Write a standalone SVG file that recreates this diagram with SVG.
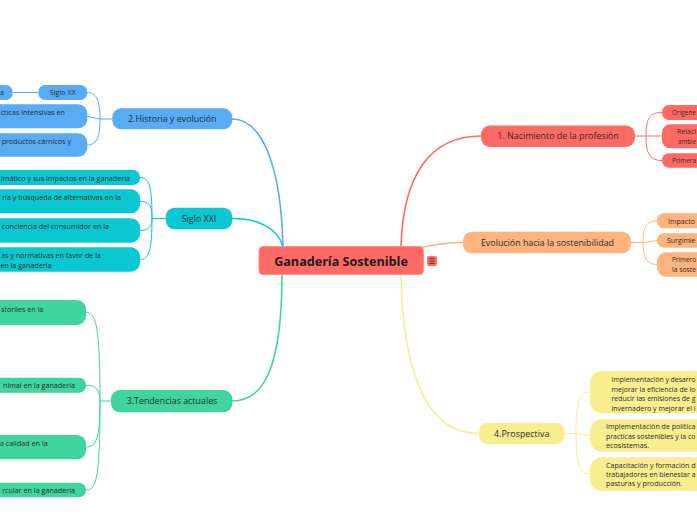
<svg xmlns="http://www.w3.org/2000/svg" width="697" height="520" viewBox="0 0 697 520">
<style>
text{font-family:"Open Sans","Noto Sans","DejaVu Sans",sans-serif;fill:#2b2b2b}
.b{font-size:8.9px}
.c{font-size:7.2px}
.red{fill:#FF6B64}
.org{fill:#FFB47E}
.yel{fill:#F8EE8F}
.blu{fill:#58ABF5}
.cya{fill:#0AC8D2}
.grn{fill:#40D59E}
.lr{stroke:#FF6B64}
.lo{stroke:#FFB47E}
.ly{stroke:#F8EE8F}
.lb{stroke:#58ABF5}
.lc{stroke:#0AC8D2}
.lg{stroke:#40D59E}
#connectors path{fill:none}
.m{stroke-width:1.6}
.s{stroke-width:1}
</style>
<rect width="697" height="520" fill="#ffffff"/>
<g id="connectors">
<path class="lr m" d="M401,247 C403,175 430,136 481,136"/>
<path class="lo m" d="M418,248 C440,244 448,242.5 463,242.5"/>
<path class="ly m" d="M401,274 C403,385 432,433.5 479,433.5"/>
<path class="lb m" d="M283,247 C281,165 262,119 232,119"/>
<path class="lc m" d="M283,247 C278,228 258,218.5 232,218.5"/>
<path class="lg m" d="M282,274 C282,372 262,401 232,401"/>
<path class="lr s" d="M635,136 L646,136 M646,136 C646,118 650,112.5 662,112.5 M646,136 L662,136 M646,136 C646,154 650,160.5 662,160.5"/>
<path class="lo s" d="M631,242.5 L643,242.5 M643,242.5 C643,226 647,220.8 657,220.8 M643,242.5 L657,240.5 M643,242.5 C643,258 647,264.5 657,264.5"/>
<path class="ly s" d="M564,433.5 L576,433.5 M576,433.5 C576,400 580,392 590,392 M576,433.5 L590,435.5 M576,433.5 C576,466 580,474 590,474"/>
<path class="lb s" d="M112,119 L100,119 M100,119 C100,99 96,92.5 87,92.5 M100,119 L87,116.3 M100,119 C100,139 96,145 87,145 M38,92.5 L12.7,92.5"/>
<path class="lc s" d="M166,218.5 L152,218.5 M152,218.5 C152,185 149,177.5 140,177.5 M152,218.5 C152,205 149,201.3 140,201.3 M152,218.5 C152,226 149,230.5 140,230.5 M152,218.5 C152,250 149,259.5 140,259.5"/>
<path class="lg s" d="M111,401 L100,401 M100,401 C100,325 96,312.5 86,312.5 M100,401 C100,390 96,385.2 86,385.2 M100,401 C100,440 96,447 86,447 M100,401 C100,480 96,490 86,490"/>
</g>
<g id="central">
<rect x="259" y="246.5" width="164.5" height="28" rx="4" class="red" stroke="#ff8f89" stroke-width="1"/>
<text x="341" y="265.7" text-anchor="middle" style="font-size:12.6px;font-weight:bold;fill:#1a1a1a">Ganadería Sostenible</text>
<rect x="427" y="256" width="10" height="10" rx="2" class="red"/>
<path d="M429.5,258.7 H434.5 M429.5,261 H434.5 M429.5,263.3 H434.5" stroke="#5a1c1a" stroke-width="0.9" fill="none"/>
</g>
<g id="n1">
<rect x="481" y="125.5" width="154" height="21.5" rx="9" class="red"/>
<text class="b" x="558" y="139.3" text-anchor="middle">1. Nacimiento de la profesión</text>
</g>
<g id="n1a"><rect x="662" y="105" width="60" height="15" rx="7" class="red"/><text class="c" x="672" y="115.2" textLength="24" lengthAdjust="spacingAndGlyphs">Orígene</text></g>
<g id="n1b"><rect x="662" y="124.3" width="60" height="24" rx="8" class="red"/><text class="c" x="677" y="134.2" textLength="19" lengthAdjust="spacingAndGlyphs">Relaci</text><text class="c" x="678" y="143.7" textLength="18" lengthAdjust="spacingAndGlyphs">ambie</text></g>
<g id="n1c"><rect x="662" y="153.3" width="60" height="14.5" rx="7" class="red"/><text class="c" x="672" y="163.2" textLength="24" lengthAdjust="spacingAndGlyphs">Primera</text></g>
<g id="n2">
<rect x="463" y="231.7" width="168" height="21.6" rx="9" class="org"/>
<text class="b" x="547.5" y="245.6" text-anchor="middle">Evolución hacia la sostenibilidad</text>
</g>
<g id="n2a"><rect x="657" y="213.3" width="60" height="15" rx="7" class="org"/><text class="c" x="668" y="223.5" textLength="27" lengthAdjust="spacingAndGlyphs">Impacto</text></g>
<g id="n2b"><rect x="657" y="233.3" width="60" height="14.4" rx="7" class="org"/><text class="c" x="667" y="243.2" textLength="28.5" lengthAdjust="spacingAndGlyphs">Surgimie</text></g>
<g id="n2c"><rect x="657" y="252.3" width="60" height="24.4" rx="9" class="org"/><text class="c" x="672" y="262.2" textLength="24" lengthAdjust="spacingAndGlyphs">Primero</text><text class="c" x="672" y="271.7" textLength="24" lengthAdjust="spacingAndGlyphs">la soste</text></g>
<g id="n4">
<rect x="479" y="422.7" width="85.5" height="21.6" rx="9" class="yel"/>
<text class="b" x="521.7" y="436.6" text-anchor="middle">4.Prospectiva</text>
</g>
<g id="n4a"><rect x="590" y="371" width="130" height="42.3" rx="12" class="yel"/>
<text class="c" x="611.5" y="381.7" textLength="84" lengthAdjust="spacingAndGlyphs">Implementación y desarro</text>
<text class="c" x="611.5" y="391.7" textLength="84" lengthAdjust="spacingAndGlyphs">mejorar la eficiencia de lo</text>
<text class="c" x="611.5" y="401.2" textLength="84" lengthAdjust="spacingAndGlyphs">reducir las emisiones de g</text>
<text class="c" x="611.5" y="410.5" textLength="84" lengthAdjust="spacingAndGlyphs">invernadero y mejorar el l</text></g>
<g id="n4b"><rect x="590" y="419.3" width="130" height="32.4" rx="12" class="yel"/>
<text class="c" x="606" y="429.2" textLength="89.5" lengthAdjust="spacingAndGlyphs">Implementación de política</text>
<text class="c" x="606" y="439.2" textLength="89.5" lengthAdjust="spacingAndGlyphs">practicas sostenibles y la co</text>
<text class="c" x="606" y="448.2">ecosistemas.</text></g>
<g id="n4c"><rect x="590" y="457.3" width="130" height="33.7" rx="12" class="yel"/>
<text class="c" x="606" y="467.7" textLength="89.5" lengthAdjust="spacingAndGlyphs">Capacitación y formación d</text>
<text class="c" x="606" y="476.9" textLength="89.5" lengthAdjust="spacingAndGlyphs">trabajadores en bienestar a</text>
<text class="c" x="606" y="486.2">pasturas y producción.</text></g>
<g id="n3">
<rect x="112.3" y="108.3" width="120" height="21" rx="9" class="blu"/>
<text class="b" x="172.3" y="121.9" text-anchor="middle">2.Historia y evolución</text>
</g>
<g id="n3a"><rect x="38.3" y="85" width="49" height="15" rx="7" class="blu"/><text class="c" x="62.8" y="95.2" text-anchor="middle">Siglo XX</text></g>
<g id="n3a1"><rect x="-40" y="85" width="52.7" height="15" rx="7" class="blu"/><text class="c" x="4" y="95.2" text-anchor="end">a</text></g>
<g id="n3b"><rect x="-60" y="104.3" width="147.3" height="24" rx="9" class="blu"/><text class="c" x="65" y="115.2" text-anchor="end">cticas intensivas en</text></g>
<g id="n3c"><rect x="-60" y="133.3" width="147.3" height="23.4" rx="9" class="blu"/><text class="c" x="71" y="144.2" text-anchor="end">productos cárnicos y</text></g>
<g id="n5">
<rect x="165.7" y="207.7" width="66.6" height="21.6" rx="9" class="cya"/>
<text class="b" x="199" y="221.6" text-anchor="middle">Siglo XXI</text>
</g>
<g id="n5a"><rect x="-60" y="170" width="200" height="15" rx="7" class="cya"/><text class="c" x="130" y="180.7" text-anchor="end">imático y sus impactos en la ganadería</text></g>
<g id="n5b"><rect x="-60" y="189.3" width="200" height="24" rx="9" class="cya"/><text class="c" x="121" y="199.9" text-anchor="end">ria y búsqueda de alternativas en la</text></g>
<g id="n5c"><rect x="-60" y="218.3" width="200" height="24.4" rx="9" class="cya"/><text class="c" x="109" y="228.7" text-anchor="end">conciencia del consumidor en la</text></g>
<g id="n5d"><rect x="-60" y="247.3" width="200" height="24.4" rx="9" class="cya"/><text class="c" x="101" y="257.7" text-anchor="end">as y normativas en favor de la</text><text class="c" x="51.7" y="267.9" text-anchor="end">en la ganadería</text></g>
<g id="n6">
<rect x="111" y="390" width="121.3" height="22.3" rx="9" class="grn"/>
<text class="b" x="172" y="404.3" text-anchor="middle">3.Tendencias actuales</text>
</g>
<g id="n6a"><rect x="-60" y="300" width="146" height="25" rx="9" class="grn"/><text class="c" x="43.3" y="311.7" text-anchor="end">storiles en la</text></g>
<g id="n6b"><rect x="-60" y="377.7" width="146" height="15" rx="7" class="grn"/><text class="c" x="75" y="388.2" text-anchor="end">nimal en la ganadería</text></g>
<g id="n6c"><rect x="-60" y="435" width="146" height="24.3" rx="9" class="grn"/><text class="c" x="47.7" y="446.2" text-anchor="end">a calidad en la</text></g>
<g id="n6d"><rect x="-60" y="482.7" width="146" height="14.6" rx="7" class="grn"/><text class="c" x="75" y="493.2" text-anchor="end">rcular en la ganadería</text></g>
</svg>
